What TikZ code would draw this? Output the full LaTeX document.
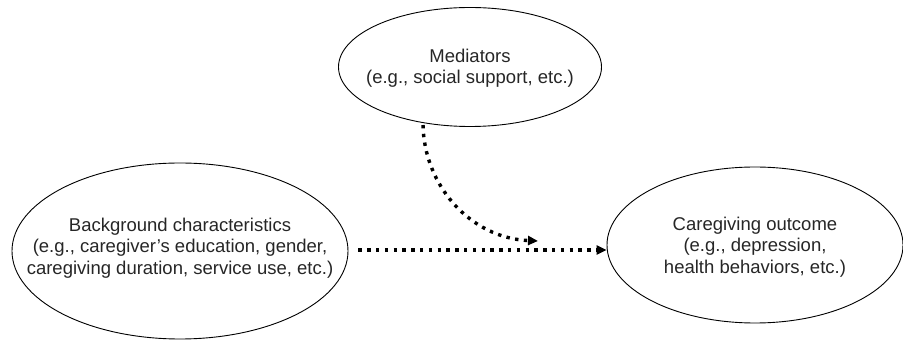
\documentclass[tikz,border=0pt]{standalone}
\usepackage{fontspec}
\setmainfont{Liberation Sans}
\usetikzlibrary{shapes.geometric,arrows.meta}
\begin{document}
\begin{tikzpicture}[x=1pt,y=1pt,
  oval/.style={draw,ellipse,line width=0.9pt,inner sep=0pt},
  txt/.style={align=center,inner sep=0pt,
    font=\fontsize{18.5}{21.5}\selectfont,text=black!85},
  arr/.style={line width=3.4pt,dash pattern=on 3.4pt off 5.4pt,
    -{Triangle[length=10pt,width=9pt]}}]
\useasboundingbox (0,0) rectangle (903,340);
\node[oval,minimum width=263pt,minimum height=119pt] (med) at (470,273) {};
\node[txt] (medt) at ([yshift=-1pt]med) {Mediators\\(e.g., social support, etc.)};
\node[oval,minimum width=336pt,minimum height=176pt] (bg) at (180,89) {};
\node[txt] (bgt) at ([yshift=3pt]bg) {Background characteristics\\(e.g., caregiver’s education, gender,\\caregiving duration, service use, etc.)};
\node[oval,minimum width=296pt,minimum height=156pt] (out) at (755,95) {};
\node[txt] (outt) at ([yshift=-2pt]out) {Caregiving outcome\\(e.g., depression,\\health behaviors, etc.)};
\coordinate (mend) at (538,99);
\draw[arr] ([xshift=10pt,yshift=1pt]bg.east) -- ([yshift=1pt]bg.east -| out.west);
\draw[arr,shorten <=2pt] (med.230) .. controls (424,155) and (470,102) .. (mend);
\end{tikzpicture}
\end{document}
